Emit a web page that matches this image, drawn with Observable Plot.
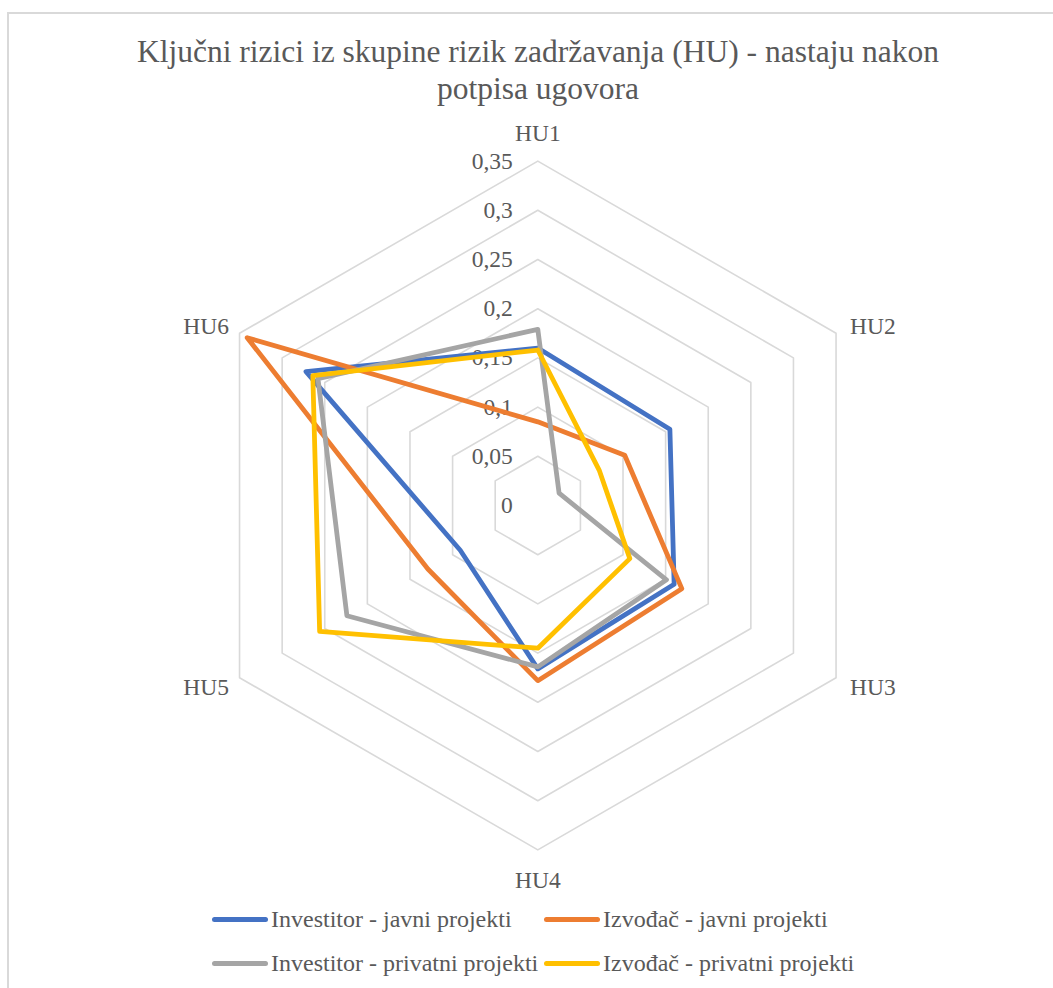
<!DOCTYPE html>
<html>
<head>
<meta charset="utf-8">
<script src="https://cdn.jsdelivr.net/npm/d3@7"></script>
<script src="https://cdn.jsdelivr.net/npm/@observablehq/plot@0.6"></script>
<style>
  html, body { margin: 0; padding: 0; background: #fff; overflow: hidden; }
  body { width: 1053px; height: 988px; position: relative; font-family: "Liberation Serif", Tinos, "Times New Roman", Times, "DejaVu Serif", serif; color: #595959; }
  #frame { position: absolute; left: 7px; top: 12px; width: 1100px; height: 1100px; border: 2px solid #d9d9d9; box-sizing: border-box; }
  #title { position: absolute; left: 0; top: 33px; width: 1076px; text-align: center; font-size: 31.5px; line-height: 37px; }
  #chart { position: absolute; left: 0; top: 110px; }
  #legend { position: absolute; left: 212px; top: 0; }
  .item { position: absolute; display: flex; align-items: center; height: 30px; font-size: 24px; white-space: nowrap; }
  .sw { width: 56px; height: 5px; border-radius: 3px; margin-right: 3px; }
  #chart svg text { font-family: "Liberation Serif", Tinos, "Times New Roman", Times, "DejaVu Serif", serif; }
</style>
</head>
<body>
<div id="frame"></div>
<div id="title">Ključni rizici iz skupine rizik zadržavanja (HU) - nastaju nakon<br>potpisa ugovora</div>
<div id="chart"></div>
<div id="legend"></div>
<script>
// ---- data ----
const categories = ["HU1", "HU2", "HU3", "HU4", "HU5", "HU6"];
const seriesNames = [
  "Investitor - javni projekti",
  "Izvođač - javni projekti",
  "Investitor - privatni projekti",
  "Izvođač - privatni projekti"
];
const investitorJavni    = [0.160, 0.155, 0.160, 0.166, 0.091, 0.272];
const izvodacJavni       = [0.085, 0.102, 0.169, 0.178, 0.129, 0.341];
const investitorPrivatni = [0.179, 0.025, 0.151, 0.164, 0.224, 0.258];
const izvodacPrivatni    = [0.158, 0.072, 0.108, 0.145, 0.256, 0.264];
const tickValues = [0, 0.05, 0.1, 0.15, 0.2, 0.25, 0.3, 0.35];
const seriesColors = ["#4472C4", "#ED7D31", "#A5A5A5", "#FFC000"];

// ---- layout ----
const W = 1053, H = 790;
const cx = 537.3, cy = 395;   // centre inside the svg
const K = 984;                // px per unit value
const rMax = 0.35;
const FONT = "'Liberation Serif', Tinos, 'Times New Roman', Times, 'DejaVu Serif', serif";
const fmt = v => String(v).replace(".", ",");
const ang = i => i * Math.PI / 3;
const px = (r, i) => r * Math.sin(ang(i));
const py = (r, i) => r * Math.cos(ang(i));

const allSeries = [investitorJavni, izvodacJavni, investitorPrivatni, izvodacPrivatni];
const lineData = [];
allSeries.forEach((vals, s) => vals.forEach((v, i) => lineData.push({series: seriesNames[s], cat: categories[i], x: px(v, i), y: py(v, i)})));

const ringData = [];
tickValues.filter(t => t > 0).forEach(t => categories.forEach((c, i) => ringData.push({ring: t, x: px(t, i), y: py(t, i)})));

// label offsets in px (screen: +x right, +y down)
const labelOffsets = [[0, -27.6], [14, -6.5], [14, 9.5], [0, 30.6], [-10.5, 9.5], [-10.5, -6.5]];
const labelData = categories.map((c, i) => ({
  label: c, i,
  x: px(rMax, i) + labelOffsets[i][0] / K,
  y: py(rMax, i) - labelOffsets[i][1] / K
}));
const tickData = tickValues.map(t => ({t, label: fmt(t)}));

const textStyle = {fill: "#595959", fontSize: 23.5, fontFamily: FONT};

const chart = Plot.plot({
  width: W, height: H,
  margin: 0,
  x: {domain: [-0.5, 0.5], range: [cx - 0.5 * K, cx + 0.5 * K], axis: null},
  y: {domain: [-0.5, 0.5], range: [cy + 0.5 * K, cy - 0.5 * K], axis: null},
  color: {domain: seriesNames, range: seriesColors},
  style: {background: "transparent", fontFamily: FONT},
  marks: [
    Plot.line(ringData, {x: "x", y: "y", z: "ring", curve: "linear-closed", stroke: "#d9d9d9", strokeWidth: 1.6}),
    Plot.text(tickData, {x: () => 0, y: d => d.t, text: "label", textAnchor: "end", dx: -25, ...textStyle}),
    Plot.line(lineData, {x: "x", y: "y", z: "series", stroke: "series", curve: "linear-closed", strokeWidth: 4.8, strokeLinejoin: "round", strokeLinecap: "round"}),
    Plot.text(labelData.filter(d => d.i === 0 || d.i === 3), {x: "x", y: "y", text: "label", textAnchor: "middle", ...textStyle}),
    Plot.text(labelData.filter(d => d.i === 1 || d.i === 2), {x: "x", y: "y", text: "label", textAnchor: "start", ...textStyle}),
    Plot.text(labelData.filter(d => d.i === 4 || d.i === 5), {x: "x", y: "y", text: "label", textAnchor: "end", ...textStyle})
  ]
});
document.getElementById("chart").appendChild(chart);

// ---- legend ----
const legend = document.getElementById("legend");
const legendPos = [[0, 904], [332, 904], [0, 948], [332, 948]];
seriesNames.forEach((name, s) => {
  const it = document.createElement("div");
  it.className = "item";
  it.style.left = legendPos[s][0] + "px";
  it.style.top = legendPos[s][1] + "px";
  const sw = document.createElement("span");
  sw.className = "sw";
  sw.style.background = seriesColors[s];
  const tx = document.createElement("span");
  tx.textContent = name;
  it.appendChild(sw); it.appendChild(tx);
  legend.appendChild(it);
});
</script>
</body>
</html>
